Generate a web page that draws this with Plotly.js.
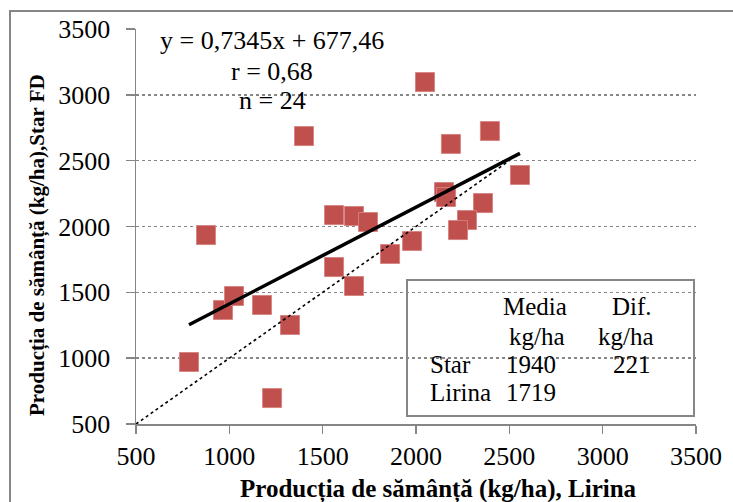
<!DOCTYPE html>
<html>
<head>
<meta charset="utf-8">
<script src="https://cdn.plot.ly/plotly-3.0.1.min.js"></script>
<style>
html, body { margin: 0; padding: 0; background: #ffffff; }
#chart { width: 733px; height: 502px; }
</style>
</head>
<body>
<div id="chart"></div>
<script>
// ---- Data ----
const lirina = [784, 875, 966, 1025, 1175, 1325, 1229, 1400, 1561, 1668, 1743, 1561,
                1668, 1861, 1979, 2048, 2150, 2161, 2187, 2396, 2557, 2359, 2273, 2225];
const starFD = [971, 1935, 1366, 1472, 1404, 1252, 697, 2687, 2087, 2080, 2034, 1692,
                1548, 1791, 1890, 3097, 2262, 2224, 2627, 2725, 2391, 2178, 2049, 1973];
const trendSlope = 0.7345;
const trendIntercept = 677.46;
const identityRange = [500, 2500];
const axisTicks = [500, 1000, 1500, 2000, 2500, 3000, 3500];
const axisTickLabels = ['500', '1000', '1500', '2000', '2500', '3000', '3500'];
const statsLines = ['y = 0,7345x + 677,46', 'r = 0,68', 'n = 24'];
const tableHeader = ['Media', 'Dif.'];
const tableUnits = ['kg/ha', 'kg/ha'];
const tableRows = ['Star', 'Lirina'];
const tableMeans = ['1940', '1719'];
const tableDiff = ['221'];
const xTitle = 'Producția de sămânță (kg/ha), Lirina';
const yTitle = 'Producția de sămânță (kg/ha),Star FD';

// ---- Geometry helpers (plot area in pixels) ----
const W = 733, H = 502;
const PL = 136, PR = 696, PT = 29, PB = 424;
const px = v => (v - PL) / (PR - PL);
const py = v => (PB - v) / (PB - PT);

const serif = "'Liberation Serif', 'Times New Roman', Times, serif";
const gray = '#868686';

const trendX = [Math.min(...lirina), Math.max(...lirina)];
const trendY = trendX.map(x => trendSlope * x + trendIntercept);

const traces = [
  {
    type: 'scatter', mode: 'markers', x: lirina, y: starFD,
    marker: { symbol: 'square', size: 19, color: '#C0504D',
              line: { width: 1, color: 'rgba(214,130,128,0.9)' } },
    hoverinfo: 'skip'
  },
  {
    type: 'scatter', mode: 'lines', x: identityRange, y: identityRange,
    line: { color: '#000000', width: 1.6, dash: 'dot' }, hoverinfo: 'skip'
  },
  {
    type: 'scatter', mode: 'lines', x: trendX, y: trendY,
    line: { color: '#000000', width: 3.5 }, hoverinfo: 'skip'
  }
];

const ann = [];
const txt = (text, xp, yp, xanchor, size, extra) => Object.assign({
  text: text, xref: 'paper', yref: 'paper', x: px(xp), y: py(yp),
  xanchor: xanchor, yanchor: 'middle', showarrow: false,
  font: { family: serif, size: size, color: '#000000' }
}, extra || {});

// regression stats
const statsY = [40, 71, 101];
statsLines.forEach((s, i) => ann.push(txt(s, 272, statsY[i], 'center', 26)));

// table box texts
ann.push(txt(tableHeader[0], 535, 306, 'center', 25));
ann.push(txt(tableHeader[1], 632, 306, 'center', 25));
ann.push(txt(tableUnits[0], 537, 336, 'center', 25));
ann.push(txt(tableUnits[1], 626, 336, 'center', 25));
ann.push(txt(tableRows[0], 428, 364, 'left', 25));
ann.push(txt(tableMeans[0], 531, 364, 'center', 25));
ann.push(txt(tableDiff[0], 632, 364, 'center', 25));
ann.push(txt(tableRows[1], 428, 392, 'left', 25));
ann.push(txt(tableMeans[1], 531, 392, 'center', 25));

// axis titles
ann.push(txt('<b>' + xTitle + '</b>', 438, 489, 'center', 25));
ann.push(txt('<b>' + yTitle + '</b>', 37, 245, 'center', 21, { textangle: -90 }));

const layout = {
  width: W, height: H,
  margin: { l: PL, r: W - PR, t: PT, b: H - PB },
  paper_bgcolor: '#ffffff', plot_bgcolor: '#ffffff',
  showlegend: false,
  font: { family: serif, color: '#000000' },
  xaxis: {
    range: [500, 3500], tickmode: 'array', tickvals: axisTicks, ticktext: axisTickLabels,
    showgrid: false, zeroline: false,
    showline: true, linecolor: gray, linewidth: 1.5,
    ticks: 'outside', ticklen: 8, tickwidth: 1.5, tickcolor: gray,
    ticklabelstandoff: 0,
    tickfont: { family: serif, size: 26, color: '#000000' }
  },
  yaxis: {
    range: [500, 3500], tickmode: 'array', tickvals: axisTicks, ticktext: axisTickLabels,
    showgrid: true, gridcolor: gray, gridwidth: 1.5, griddash: 'dot',
    zeroline: false,
    showline: true, linecolor: gray, linewidth: 1.5,
    ticks: 'outside', ticklen: 9, tickwidth: 1.5, tickcolor: gray,
    ticklabelstandoff: 10,
    tickfont: { family: serif, size: 26, color: '#000000' }
  },
  shapes: [
    { type: 'rect', xref: 'paper', yref: 'paper',
      x0: px(10), x1: px(800), y0: py(560), y1: py(11),
      line: { color: gray, width: 2 }, fillcolor: 'rgba(0,0,0,0)', layer: 'below' },
    { type: 'rect', xref: 'paper', yref: 'paper',
      x0: px(407), x1: px(694), y0: py(416), y1: py(280),
      line: { color: gray, width: 2 }, fillcolor: 'rgba(0,0,0,0)', layer: 'above' }
  ],
  annotations: ann
};

Plotly.newPlot('chart', traces, layout, { staticPlot: true, displayModeBar: false });
</script>
</body>
</html>
